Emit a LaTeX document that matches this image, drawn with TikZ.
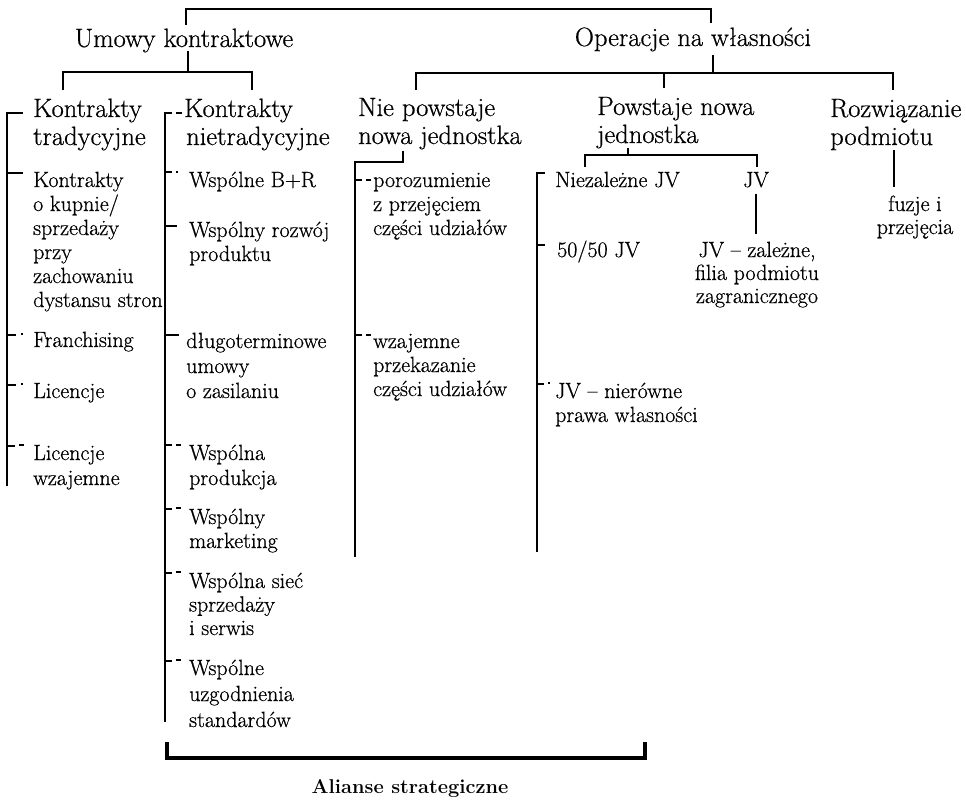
\documentclass[tikz,border=0pt]{standalone}
\usepackage{fontspec}
\setmainfont{Latin Modern Roman}[UprightFeatures={FakeBold=0.6}]
\newcommand\hfont{\fontsize{26.5}{28}\selectfont}
\newcommand\bfont{\fontsize{22}{24}\selectfont}
\newcommand\stackl[2]{\vtop{\baselineskip=#1\relax\halign{##\hfil\cr#2\crcr}}}
\newcommand\stackc[2]{\vtop{\baselineskip=#1\relax\halign{\hfil##\hfil\cr#2\crcr}}}
\begin{document}
\begin{tikzpicture}[x=1pt,y=-1pt,
  ln/.style={line width=2.4pt, line join=miter},
  thick bracket/.style={line width=4.5pt, line join=miter},
  tk/.style={line width=2pt},
  hd/.style={font=\hfont, inner sep=0pt, anchor=base west},
  bd/.style={font=\bfont, inner sep=0pt, anchor=base west}]
\fill[white] (0,0) rectangle (966,801);
\useasboundingbox (0,0) rectangle (966,801);

% ---------- top level ----------
\node[hd, anchor=base] (U) at (184,47) {Umowy kontraktowe};
\node[hd, anchor=base] (O) at (693,46) {Operacje na własności};
\coordinate (tl) at (186,9);
\coordinate (tr) at (711,9);
\draw[ln] ([yshift=-16pt]tl) -- (tl) -- (tr) -- ([yshift=-14pt]tr);

% ---------- second level headings ----------
\node[hd] (KT) at (33,117) {\stackl{28pt}{Kontrakty\cr tradycyjne}};
\node[hd] (KN) at (184,117) {\stackl{28pt}{Kontrakty\cr\kern2pt nietradycyjne}};
\node[hd] (NP) at (358,116) {\stackl{28pt}{Nie powstaje\cr nowa jednostka}};
\node[hd] (PN) at (597,115) {\stackl{28pt}{Powstaje nowa\cr jednostka}};
\node[hd] (RP) at (830,117) {\stackl{28pt}{Rozwiązanie\cr podmiotu}};

% left subtree
\coordinate (ua) at (188,51);
\coordinate (ub) at (188,72);
\coordinate (ul) at (63,90);
\coordinate (ur) at (252,90);
\draw[ln] (ua) -- (ub);
\draw[ln] (ul) |- (ub) -| (ur);
% right subtree
\coordinate (oa) at (713,55);
\coordinate (ob) at (713,73);
\coordinate (ol) at (416,90);
\coordinate (om) at (664,88);
\coordinate (orr) at (893,90);
\draw[ln] (oa) -- (ob);
\draw[ln] (ol) |- (ob) -| (orr);
\draw[ln] (om |- ob) -- (om);

% ---------- column 1 ----------
\node[bd] (K1) at (33,187) {\stackl{24pt}{Kontrakty\cr o kupnie/\cr sprzedaży\cr przy\cr zachowaniu\cr dystansu stron}};
\node[bd] (K2) at (33,347) {Franchising};
\node[bd] (K3) at (33,398) {Licencje};
\node[bd] (K4) at (33,460) {\stackl{25pt}{Licencje\cr wzajemne}};
\coordinate (c1top) at (7,113);
\coordinate (c1bot) at (7,486);
\draw[ln] ([xshift=16pt]c1top) -- (c1top) -- (c1bot);
\draw[tk] (c1top |- K1.north) ++(0,1) -- ++(16,0);
\draw[tk] (c1top |- K2.north) ++(0,3) -- ++(9,0) ++(5,-1) -- ++(2,0);
\draw[tk] (c1top |- K3.north) ++(0,2) -- ++(9,0) ++(5,-1) -- ++(2,0);
\draw[tk] (c1top |- K4.north) ++(0,1) -- ++(8,0) ++(4,-1) -- ++(5,0);

% ---------- column 2 ----------
\node[bd] (N1) at (189,187) {Wspólne B+R};
\node[bd] (N2) at (189,237) {\stackl{24pt}{Wspólny rozwój\cr produktu}};
\node[bd] (N3) at (186,348) {\stackl{25pt}{długoterminowe\cr umowy\cr o zasilaniu}};
\node[bd] (N4) at (189,460) {\stackl{25pt}{Wspólna\cr produkcja}};
\node[bd] (N5) at (189,524) {\stackl{24pt}{Wspólny\cr marketing}};
\node[bd] (N6) at (189,588) {\stackl{23.5pt}{Wspólna sieć\cr sprzedaży\cr i serwis}};
\node[bd] (N7) at (189,675) {\stackl{26pt}{Wspólne\cr uzgodnienia\cr standardów}};
\coordinate (c2top) at (165,113);
\coordinate (c2bot) at (165,722);
\draw[ln] ([xshift=7pt]c2top) -- (c2top) -- (c2bot);
\draw[tk] ([xshift=11pt]c2top) -- ++(6,0);
\draw[tk] (c2top |- N1.north) ++(0,1) -- ++(7,0) ++(4,0) -- ++(2,0);
\draw[tk] (c2top |- N2.north) ++(0,5) -- ++(12,0);
\draw[tk] (c2top |- N3.north) ++(0,2) -- ++(14,0);
\draw[tk] (c2top |- N4.north) ++(0,1) -- ++(7,0) ++(4,0) -- ++(5,0);
\draw[tk] (c2top |- N5.north) ++(0,1) -- ++(7,0) ++(4,-1) -- ++(5,0);
\draw[tk] (c2top |- N6.north) ++(0,1) -- ++(7,0) ++(4,-1) -- ++(5,0);
\draw[tk] (c2top |- N7.north) ++(0,1) -- ++(7,0) ++(4,-1) -- ++(5,0);

% ---------- column 3 ----------
\node[bd] (P1) at (373,187) {\stackl{24pt}{porozumienie\cr z przejęciem\cr części udziałów}};
\node[bd] (P2) at (373,348) {\stackl{24pt}{wzajemne\cr przekazanie\cr części udziałów}};
\coordinate (c3a) at (403,151);
\coordinate (c3top) at (355,162);
\coordinate (c3bot) at (355,557);
\draw[ln] (c3a) |- (c3top) -- (c3bot);
\draw[tk] (c3top |- P1.north) ++(0,7) -- ++(7,0) ++(4,0) -- ++(5,0);
\draw[tk] (c3top |- P2.north) ++(0,1) -- ++(7,0) ++(4,0) -- ++(5,0);

% ---------- column 4 ----------
\node[bd] (J1) at (555,187) {Niezależne JV};
\node[bd] (J2) at (557,257) {50/50 JV};
\node[bd] (J3) at (555,398) {\stackl{24pt}{JV – nierówne\cr prawa własności}};
\node[bd, anchor=base] (JV) at (756,187) {JV};
\node[bd, anchor=base] (JZ) at (757,257) {\stackc{23pt}{JV – zależne,\cr filia podmiotu\cr zagranicznego}};
\coordinate (p4a) at (628,148);
\coordinate (p4l) at (585,167);
\coordinate (p4r) at (757,167);
\coordinate (p4h) at (628,155);
\draw[ln] (p4a) -- (p4h);
\draw[ln] (p4l) |- (p4h) -| (p4r);
\coordinate (c4top) at (537,173);
\coordinate (c4bot) at (537,552);
\draw[ln] ([xshift=8pt]c4top) -- (c4top) -- (c4bot);
\draw[tk] (c4top |- J2.north) ++(0,5) -- ++(8,0);
\draw[tk] (c4top |- J3.north) ++(0,2) -- ++(7,0) ++(4,-1) -- ++(2,0);
\draw[ln] ([yshift=-6pt]JV.south) -- ([yshift=-46pt]JV.south);

% ---------- column 5 ----------
\node[bd, anchor=base] (FZ) at (915,211) {\stackc{23pt}{fuzje i\cr przejęcia}};
\coordinate (r5a) at (894,150);
\coordinate (r5b) at (894,187);
\draw[ln] (r5a) -- (r5b);

% ---------- bottom bracket ----------
\coordinate (bl) at (167,742);
\coordinate (br) at (645,742);
\coordinate (bm) at (406,758);
\draw[thick bracket] (bl) |- (bm) -| (br);
\node[inner sep=0pt, anchor=base, font=\fontsize{20}{22}\selectfont\bfseries] (AL) at (410,793) {Alianse strategiczne};
\end{tikzpicture}
\end{document}
